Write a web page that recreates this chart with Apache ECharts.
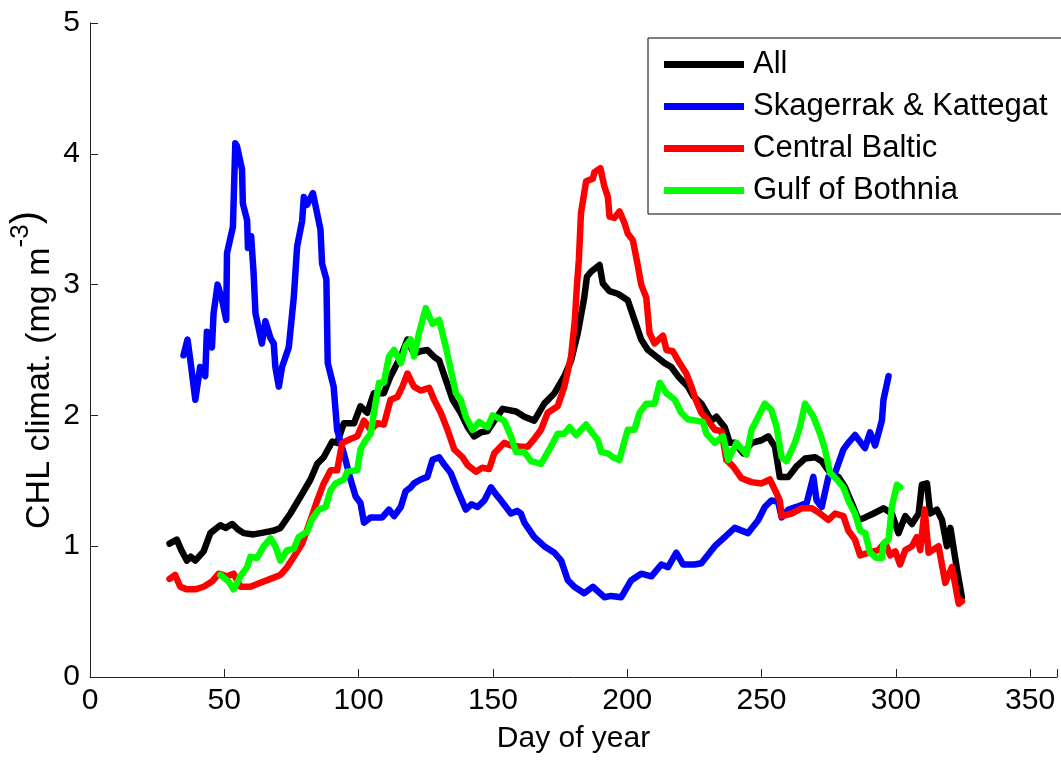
<!DOCTYPE html>
<html>
<head>
<meta charset="utf-8">
<script src="https://cdn.jsdelivr.net/npm/echarts@6/dist/echarts.min.js"></script>
<style>
html,body{margin:0;padding:0;background:#fff;}
#chart{width:1061px;height:760px;}
</style>
</head>
<body>
<div id="chart"></div>
<script>
// ---- Data ----
const seriesNames = ['All', 'Skagerrak & Kattegat', 'Central Baltic', 'Gulf of Bothnia'];
const seriesColors = ['#000000', '#0000ff', '#ff0000', '#00ff00'];

const allDays = [29.6,32.3,34.0,36.1,37.5,39.2,42.3,44.8,48.5,50.5,52.9,55.0,57.2,60.9,63.5,65.9,68.5,70.9,74.6,78.4,82.1,84.6,87.0,90.2,92.0,94.5,98.3,100.7,103.2,105.7,109.4,111.9,115.7,118.2,120.6,123.0,125.6,128.0,130.0,132.5,135.0,138.0,140.6,143.0,145.5,148.0,150.5,153.6,156.0,158.6,161.7,165.4,169.1,172.9,176.6,179.1,181.6,184.0,185.0,186.6,189.7,190.9,193.4,196.5,200.2,202.7,205.2,207.7,210.8,213.9,216.4,218.9,222.6,224.5,227.6,231.3,233.2,236.3,238.2,240.0,243.2,246.3,250.0,252.5,255.0,256.8,260.0,263.0,266.2,270.0,272.4,275.5,278.6,281.1,283.6,286.1,288.6,291.7,295.4,298.5,301.0,303.5,306.0,308.5,309.7,311.6,312.8,315.3,317.2,319.0,320.3,322.8,324.6];
const allValues = [1.02,1.05,0.97,0.89,0.92,0.89,0.96,1.10,1.16,1.14,1.17,1.13,1.10,1.09,1.10,1.11,1.12,1.14,1.25,1.38,1.51,1.63,1.68,1.80,1.79,1.94,1.94,2.07,2.02,2.17,2.17,2.30,2.45,2.58,2.47,2.49,2.50,2.45,2.42,2.27,2.12,2.02,1.91,1.84,1.87,1.88,1.96,2.05,2.04,2.03,1.99,1.96,2.09,2.17,2.30,2.42,2.63,2.90,3.06,3.10,3.15,3.01,2.95,2.93,2.88,2.73,2.58,2.50,2.45,2.40,2.37,2.30,2.22,2.15,2.09,1.96,1.99,1.91,1.79,1.79,1.71,1.79,1.81,1.84,1.76,1.53,1.53,1.61,1.67,1.68,1.65,1.56,1.53,1.45,1.33,1.20,1.22,1.25,1.29,1.25,1.10,1.23,1.17,1.25,1.47,1.48,1.25,1.28,1.20,1.00,1.14,0.82,0.61];

const skagDays = [34.8,36.3,37.5,39.2,41.0,42.9,43.5,45.4,46.0,47.5,49.0,50.7,51.0,53.2,54.1,54.7,56.6,56.9,58.5,58.8,60.0,60.9,61.6,64.0,65.3,67.2,68.4,69.0,70.3,71.5,74.0,75.9,77.1,79.0,79.6,80.8,83.0,85.8,86.4,88.0,88.5,90.7,92.0,94.5,97.0,98.9,100.7,102.0,104.5,108.8,111.3,113.2,115.7,117.5,119.4,120.6,123.1,125.6,127.5,130.0,132.0,134.3,136.8,139.9,142.0,144.3,146.8,149.3,151.0,153.0,156.7,159.0,160.4,161.7,165.4,169.1,172.9,175.4,177.9,180.3,184.0,187.2,191.5,194.0,197.8,201.5,205.2,209.0,212.7,215.2,218.3,220.8,225.1,227.6,232.6,236.3,240.0,245.0,248.8,251.2,253.7,256.2,257.5,260.0,263.0,266.8,269.3,270.5,272.4,274.9,277.4,280.5,282.3,284.8,288.5,290.4,292.3,294.8,295.4,297.3];
const skagValues = [2.46,2.58,2.40,2.12,2.37,2.30,2.64,2.52,2.78,3.00,2.90,2.73,3.24,3.44,4.08,4.06,3.88,3.62,3.49,3.28,3.37,3.09,2.78,2.55,2.72,2.59,2.55,2.37,2.22,2.37,2.52,2.91,3.29,3.49,3.67,3.61,3.70,3.42,3.16,3.04,2.40,2.22,1.89,1.71,1.51,1.38,1.33,1.18,1.22,1.22,1.28,1.23,1.30,1.42,1.45,1.48,1.51,1.53,1.66,1.68,1.62,1.56,1.43,1.28,1.32,1.30,1.35,1.45,1.40,1.35,1.25,1.27,1.25,1.18,1.07,1.00,0.95,0.89,0.74,0.69,0.64,0.69,0.61,0.62,0.61,0.74,0.79,0.77,0.86,0.84,0.95,0.86,0.86,0.87,1.00,1.07,1.14,1.10,1.20,1.30,1.35,1.34,1.22,1.28,1.30,1.33,1.53,1.35,1.30,1.53,1.56,1.74,1.79,1.85,1.75,1.87,1.77,1.96,2.12,2.30];

const centralDays = [29.6,31.7,33.6,36.1,39.2,42.3,45.4,47.9,51.0,53.5,56.0,59.7,63.4,67.2,70.9,73.4,75.9,79.0,82.1,84.6,87.0,89.6,92.0,93.9,97.0,99.5,102.0,104.5,107.0,109.4,111.9,114.4,116.3,118.2,120.6,123.1,126.3,128.1,130.6,133.1,135.6,138.7,140.6,143.7,146.0,148.6,150.5,154.2,156.7,160.4,162.9,165.4,167.9,170.4,174.1,176.6,179.1,180.5,181.3,182.0,182.8,184.7,187.2,187.8,190.0,191.5,192.8,193.4,195.3,197.1,199.0,200.2,202.1,204.0,205.2,207.1,208.3,210.2,213.3,214.6,217.0,219.5,222.0,223.9,225.5,227.6,230.1,232.6,235.1,236.9,239.4,242.5,246.3,250.0,253.1,255.0,256.8,257.5,261.2,264.9,268.7,271.1,274.9,277.4,280.5,282.3,284.8,286.7,289.8,293.5,296.0,297.9,299.8,301.6,303.5,306.0,307.8,309.1,310.7,312.2,315.9,318.4,320.9,323.4,324.6];
const centralValues = [0.75,0.78,0.69,0.67,0.67,0.69,0.73,0.79,0.77,0.79,0.69,0.69,0.72,0.75,0.78,0.84,0.92,1.02,1.20,1.35,1.48,1.58,1.58,1.79,1.82,1.84,1.96,1.89,1.94,1.93,2.12,2.14,2.22,2.32,2.22,2.19,2.21,2.12,2.02,1.89,1.74,1.68,1.62,1.57,1.60,1.59,1.71,1.79,1.77,1.76,1.76,1.82,1.89,2.02,2.07,2.22,2.45,2.73,3.00,3.19,3.55,3.79,3.81,3.86,3.89,3.75,3.67,3.52,3.51,3.56,3.47,3.39,3.34,3.14,3.00,2.90,2.63,2.55,2.61,2.50,2.49,2.40,2.32,2.22,2.12,2.02,1.96,1.89,1.88,1.66,1.61,1.52,1.49,1.48,1.51,1.43,1.35,1.23,1.25,1.29,1.29,1.26,1.20,1.25,1.23,1.12,1.05,0.93,0.95,0.97,1.03,0.93,0.96,0.86,0.97,1.00,1.07,0.97,1.28,0.95,1.00,0.72,0.84,0.56,0.58];

const bothniaDays = [48.5,51.6,53.5,56.0,58.5,59.7,62.2,64.7,67.2,69.0,70.9,73.4,75.9,77.7,80.8,82.7,85.2,87.7,89.6,91.4,94.5,95.8,99.5,100.7,102.6,104.5,105.7,107.6,109.4,111.3,113.2,115.7,117.5,119.4,120.6,122.5,125.0,127.5,130.0,132.5,134.3,136.2,138.0,139.9,142.4,144.9,148.0,149.9,154.2,156.7,158.6,161.7,164.2,167.9,171.0,174.1,176.6,178.5,181.0,184.7,187.2,189.1,190.3,192.8,194.7,197.1,198.4,200.2,202.7,204.6,207.1,210.2,212.1,214.6,217.7,220.1,222.6,225.7,228.2,229.5,232.6,235.7,237.6,240.7,244.4,246.3,248.8,251.2,253.7,255.6,257.5,259.3,262.4,264.3,266.2,269.3,271.8,273.6,275.5,278.0,280.5,282.3,284.8,286.7,288.6,290.4,292.9,294.8,295.4,297.3,298.5,300.4,301.6];
const bothniaValues = [0.78,0.73,0.67,0.77,0.84,0.92,0.91,1.00,1.06,1.00,0.89,0.97,0.98,1.07,1.11,1.21,1.28,1.30,1.43,1.48,1.51,1.57,1.58,1.74,1.81,1.86,2.02,2.25,2.25,2.45,2.50,2.40,2.53,2.58,2.45,2.63,2.82,2.70,2.73,2.52,2.35,2.17,2.12,1.99,1.89,1.95,1.91,2.00,1.96,1.84,1.72,1.72,1.65,1.63,1.74,1.86,1.86,1.91,1.85,1.93,1.86,1.81,1.72,1.71,1.68,1.66,1.76,1.89,1.89,2.02,2.09,2.09,2.25,2.17,2.12,2.02,1.97,1.96,1.95,1.86,1.79,1.84,1.66,1.79,1.70,1.89,1.99,2.09,2.04,1.91,1.68,1.65,1.79,1.91,2.09,1.99,1.86,1.74,1.56,1.51,1.45,1.35,1.25,1.12,1.10,0.95,0.91,0.91,1.02,1.05,1.30,1.47,1.45];

const xTicks = [0, 50, 100, 150, 200, 250, 300, 350];
const yTicks = [0, 1, 2, 3, 4, 5];

// ---- Build ----
const FONT = '"Liberation Sans", Arial, Helvetica, sans-serif';
function zip(xs, ys) { return xs.map((x, i) => [x, ys[i]]); }
const daySets = [allDays, skagDays, centralDays, bothniaDays];
const valSets = [allValues, skagValues, centralValues, bothniaValues];

const chart = echarts.init(document.getElementById('chart'), null, {renderer: 'canvas'});
const axisColor = '#222';

const option = {
  animation: false,
  backgroundColor: '#ffffff',
  textStyle: {fontFamily: FONT},
  grid: {left: 90, top: 23, right: 4, bottom: 83, containLabel: false},
  xAxis: {
    type: 'value', min: xTicks[0], max: 360, interval: 50,
    name: 'Day of year', nameLocation: 'middle', nameGap: 47,
    nameTextStyle: {fontSize: 30, color: '#000', fontFamily: FONT},
    axisLine: {show: true, onZero: false, lineStyle: {color: axisColor, width: 1}},
    axisTick: {show: true, inside: true, length: 8, lineStyle: {color: axisColor}},
    axisLabel: {fontSize: 30, color: '#000', margin: 9, fontFamily: FONT,
      formatter: v => (xTicks.indexOf(v) >= 0 ? String(v) : '')},
    splitLine: {show: false}
  },
  yAxis: {
    type: 'value', min: yTicks[0], max: yTicks[yTicks.length - 1], interval: 1,
    axisLine: {show: true, onZero: false, lineStyle: {color: axisColor, width: 1}},
    axisTick: {show: true, inside: true, length: 8, lineStyle: {color: axisColor}},
    axisLabel: {fontSize: 30, color: '#000', margin: 10, fontFamily: FONT},
    splitLine: {show: false}
  },
  legend: {
    show: true, orient: 'vertical', left: 648, top: 38,
    padding: [11, 14, 8, 16], itemGap: 11,
    itemWidth: 80, itemHeight: 7, icon: 'rect',
    borderColor: '#000', borderWidth: 1, backgroundColor: '#fff',
    textStyle: {fontSize: 31, lineHeight: 31, color: '#000', fontFamily: FONT, padding: [0, 0, 0, 4]},
    data: seriesNames.map((n, i) => ({name: n, itemStyle: {color: seriesColors[i]}}))
  },
  graphic: [{
    type: 'text', x: 32, y: 370, rotation: Math.PI / 2,
    style: {
      text: '{a|CHL climat. (mg m}{b|-3}{c|)}',
      align: 'center', verticalAlign: 'middle',
      textAlign: 'center', textVerticalAlign: 'middle',
      fill: '#000', fontFamily: FONT,
      rich: {
        a: {fontSize: 34, lineHeight: 34, verticalAlign: 'bottom', fontFamily: FONT, fill: '#000', color: '#000'},
        b: {fontSize: 26, verticalAlign: 'top', padding: [0, 0, 23, 0], fontFamily: FONT, fill: '#000', color: '#000'},
        c: {fontSize: 40, lineHeight: 40, verticalAlign: 'top', fontFamily: FONT, fill: '#000', color: '#000'}
      }
    }
  }],
  series: seriesNames.map((n, i) => ({
    name: n, type: 'line',
    data: zip(daySets[i], valSets[i]),
    showSymbol: false, symbol: 'none',
    lineStyle: {color: seriesColors[i], width: 6.5, join: 'round', cap: 'round'},
    itemStyle: {color: seriesColors[i]},
    clip: true
  }))
};
chart.setOption(option);
</script>
</body>
</html>
